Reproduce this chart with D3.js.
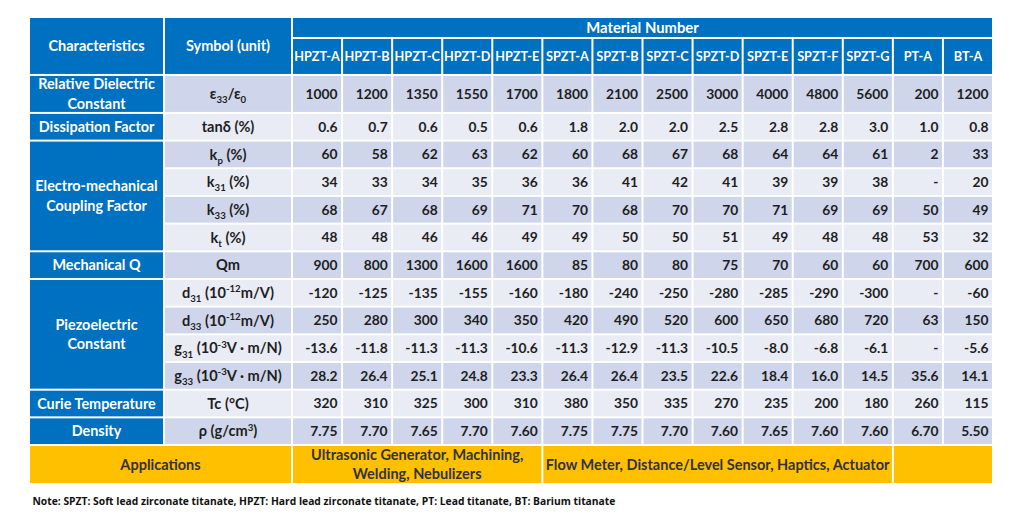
<!DOCTYPE html>
<html><head><meta charset="utf-8">
<script src="https://cdn.jsdelivr.net/npm/d3@7"></script>
<style>
html,body{margin:0;padding:0;background:#fff;}
svg{display:block;font-family:Lato,"Open Sans",sans-serif;font-weight:bold;}
</style></head>
<body><div id="chart"></div>
<script>
// ---------- data ----------
const materials = ["HPZT-A","HPZT-B","HPZT-C","HPZT-D","HPZT-E","SPZT-A","SPZT-B","SPZT-C","SPZT-D","SPZT-E","SPZT-F","SPZT-G","PT-A","BT-A"];
const dielectric = [1000,1200,1350,1550,1700,1800,2100,2500,3000,4000,4800,5600,200,1200];
const dissipation = [0.6,0.7,0.6,0.5,0.6,1.8,2.0,2.0,2.5,2.8,2.8,3.0,1.0,0.8];
const kp  = [60,58,62,63,62,60,68,67,68,64,64,61,2,33];
const k31 = [34,33,34,35,36,36,41,42,41,39,39,38,null,20];
const k33 = [68,67,68,69,71,70,68,70,70,71,69,69,50,49];
const kt  = [48,48,46,46,49,49,50,50,51,49,48,48,53,32];
const qm  = [900,800,1300,1600,1600,85,80,80,75,70,60,60,700,600];
const d31 = [-120,-125,-135,-155,-160,-180,-240,-250,-280,-285,-290,-300,null,-60];
const d33 = [250,280,300,340,350,420,490,520,600,650,680,720,63,150];
const g31 = [-13.6,-11.8,-11.3,-11.3,-10.6,-11.3,-12.9,-11.3,-10.5,-8.0,-6.8,-6.1,null,-5.6];
const g33 = [28.2,26.4,25.1,24.8,23.3,26.4,26.4,23.5,22.6,18.4,16.0,14.5,35.6,14.1];
const curie = [320,310,325,300,310,380,350,335,270,235,200,180,260,115];
const density = [7.75,7.70,7.65,7.70,7.60,7.75,7.75,7.70,7.60,7.65,7.60,7.60,6.70,5.50];

const groups = [
  {label:["Relative Dielectric","Constant"], n:1},
  {label:["Dissipation Factor"], n:1},
  {label:["Electro-mechanical","Coupling Factor"], n:4},
  {label:["Mechanical Q"], n:1},
  {label:["Piezoelectric","Constant"], n:4},
  {label:["Curie Temperature"], n:1},
  {label:["Density"], n:1}
];
const rows = [
  {sym:[{t:"ε"},{t:"33",k:"sub"},{t:"/ε"},{t:"0",k:"sub"}], vals:dielectric, fmt:"d"},
  {sym:[{t:"tanδ (%)"}], vals:dissipation, fmt:".1f"},
  {sym:[{t:"k"},{t:"p",k:"sub"},{t:" (%)"}], vals:kp, fmt:"d"},
  {sym:[{t:"k"},{t:"31",k:"sub"},{t:" (%)"}], vals:k31, fmt:"d"},
  {sym:[{t:"k"},{t:"33",k:"sub"},{t:" (%)"}], vals:k33, fmt:"d"},
  {sym:[{t:"k"},{t:"t",k:"sub"},{t:" (%)"}], vals:kt, fmt:"d"},
  {sym:[{t:"Qm"}], vals:qm, fmt:"d"},
  {sym:[{t:"d"},{t:"31",k:"sub"},{t:" (10"},{t:"-12",k:"sup"},{t:"m/V)"}], vals:d31, fmt:"d"},
  {sym:[{t:"d"},{t:"33",k:"sub"},{t:" (10"},{t:"-12",k:"sup"},{t:"m/V)"}], vals:d33, fmt:"d"},
  {sym:[{t:"g"},{t:"31",k:"sub"},{t:" (10"},{t:"-3",k:"sup"},{t:"V · m/N)"}], vals:g31, fmt:".1f"},
  {sym:[{t:"g"},{t:"33",k:"sub"},{t:" (10"},{t:"-3",k:"sup"},{t:"V · m/N)"}], vals:g33, fmt:".1f"},
  {sym:[{t:"Tc (°C)"}], vals:curie, fmt:"d"},
  {sym:[{t:"ρ (g/cm"},{t:"3",k:"sup"},{t:")"}], vals:density, fmt:".2f"}
];
const headerTitles = ["Characteristics","Symbol (unit)","Material Number"];
const applicationsLabel = "Applications";
const applications = [
  {lines:["Ultrasonic Generator, Machining,","Welding, Nebulizers"], from:0, to:4},
  {lines:["Flow Meter, Distance/Level Sensor, Haptics, Actuator"], from:5, to:11},
  {lines:[], from:12, to:13}
];
const note = "Note: SPZT: Soft lead zirconate titanate, HPZT: Hard lead zirconate titanate, PT: Lead titanate, BT: Barium titanate";

// ---------- layout ----------
const W=1024, H=517;
const BLUE="#0070C0", DARK="#CFD5EA", LIGHT="#E9EBF5", GOLD="#FFC000", TXT="#1e1e1e";
const svg = d3.select("#chart").append("svg").attr("width",W).attr("height",H);

const x = d3.scaleBand().domain(materials).range([292, 993]);
const colChar = [29,164], colSym=[164,292];
const units = [0.758, 1.336, 1.372].concat(d3.range(12).map(()=>1)).concat([1.408]);
const cum = [0]; units.forEach(u=>cum.push(cum[cum.length-1]+u));
const y = d3.scaleLinear().domain([0, cum[cum.length-1]]).range([17, 484]);
const rowTop = i => y(cum[i]), rowBot = i => y(cum[i+1]);
const g = 1;

function cell(x0,x1,y0,y1,fill){
  svg.append("rect").attr("x",x0+g).attr("y",y0+g).attr("width",x1-x0-2*g).attr("height",y1-y0-2*g).attr("fill",fill);
}
function rich(sel, segs, fs){
  let off=0;
  segs.forEach(s=>{
    const tgt = s.k==="sub"? fs*0.28 : s.k==="sup"? -fs*0.4 : 0;
    const t = sel.append("tspan").text(s.t).attr("dy", tgt-off);
    if(s.k) t.attr("font-size", fs*0.66);
    off=tgt;
  });
}
function lines(x0, cy, arr, fs, fill, anchor="middle", lh=1.4){
  const t = svg.append("text").attr("x",x0).attr("font-size",fs).attr("fill",fill).attr("text-anchor",anchor);
  const n = arr.length;
  arr.forEach((l,i)=>{
    t.append("tspan").attr("x",x0).attr("y", cy + (i-(n-1)/2)*fs*lh + fs*0.36).text(l);
  });
  return t;
}

// header
cell(colChar[0],colChar[1],rowTop(0),rowBot(1),BLUE);
cell(colSym[0],colSym[1],rowTop(0),rowBot(1),BLUE);
cell(x.range()[0],x.range()[1],rowTop(0),rowBot(0),BLUE);
materials.forEach(m=>cell(x(m),x(m)+x.bandwidth(),rowTop(1),rowBot(1),BLUE));
lines((colChar[0]+colChar[1])/2,(rowTop(0)+rowBot(1))/2,[headerTitles[0]],14.5,"#fff");
lines((colSym[0]+colSym[1])/2,(rowTop(0)+rowBot(1))/2,[headerTitles[1]],14.5,"#fff");
lines((x.range()[0]+x.range()[1])/2,(rowTop(0)+rowBot(0))/2+0.5,[headerTitles[2]],14.8,"#fff");
materials.forEach(m=>lines(x(m)+x.bandwidth()/2,(rowTop(1)+rowBot(1))/2,[m],12.7,"#fff"));

// body
let ri=0;
groups.forEach(gr=>{
  const y0=rowTop(2+ri), y1=rowBot(2+ri+gr.n-1);
  cell(colChar[0],colChar[1],y0,y1,BLUE);
  lines((colChar[0]+colChar[1])/2,(y0+y1)/2,gr.label,14.4,"#fff","middle",1.36);
  ri+=gr.n;
});
rows.forEach((r,i)=>{
  const y0=rowTop(2+i), y1=rowBot(2+i), cy=(y0+y1)/2;
  const fill = i%2===0? DARK: LIGHT;
  cell(colSym[0],colSym[1],y0,y1,fill);
  const fsS = 14.6;
  const st = svg.append("text").attr("x",(colSym[0]+colSym[1])/2).attr("y",cy+fsS*0.36)
    .attr("text-anchor","middle").attr("font-size",fsS).attr("fill",TXT);
  rich(st, r.sym, fsS);
  const f = d3.format(r.fmt);
  materials.forEach((m,j)=>{
    cell(x(m),x(m)+x.bandwidth(),y0,y1,fill);
    const v=r.vals[j];
    svg.append("text").attr("x",x(m)+x.bandwidth()-4.5).attr("y",cy+13.8*0.36)
      .attr("text-anchor","end").attr("font-size",13.8).attr("fill",TXT)
      .text(v==null? "-" : f(v).replace("−","-"));
  });
});

// applications
const ay0=rowTop(15), ay1=rowBot(15), acy=(ay0+ay1)/2;
cell(colChar[0],colSym[1],ay0,ay1,GOLD);
lines((colChar[0]+colSym[1])/2,acy,[applicationsLabel],14.5,"#333");
applications.forEach(a=>{
  const x0=x(materials[a.from]), x1=x(materials[a.to])+x.bandwidth();
  cell(x0,x1,ay0,ay1,GOLD);
  lines((x0+x1)/2,acy,a.lines,14.5,"#333","middle",1.3);
});

// note
svg.append("text").attr("x",32.5).attr("y",501+10.3*0.36).attr("font-size",10.3)
  .attr("font-family","'Open Sans',sans-serif").attr("fill","#111").text(note);
</script></body></html>
